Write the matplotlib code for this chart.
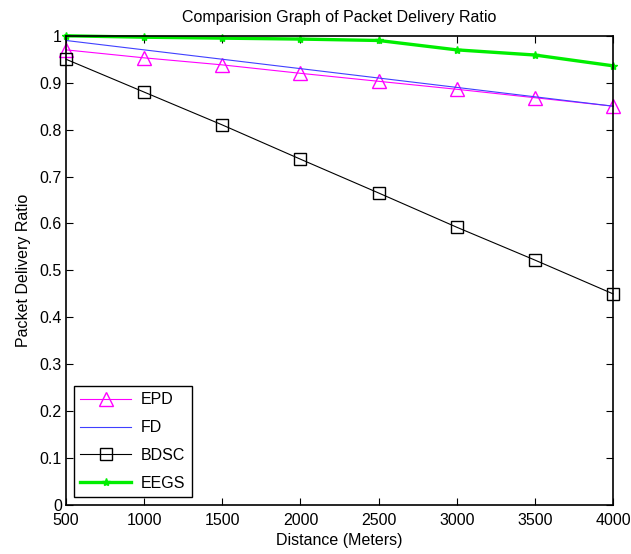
import matplotlib
matplotlib.use("Agg")
import matplotlib.pyplot as plt

plt.rcParams['font.family'] = ['Liberation Sans', 'DejaVu Sans']

distance = [500, 1000, 1500, 2000, 2500, 3000, 3500, 4000]
epd = [0.970, 0.953, 0.938, 0.920, 0.903, 0.886, 0.868, 0.850]
fd = [0.990, 0.970, 0.950, 0.930, 0.910, 0.890, 0.870, 0.850]
bdsc = [0.950, 0.880, 0.810, 0.737, 0.665, 0.592, 0.522, 0.450]
eegs = [1.000, 0.997, 0.995, 0.993, 0.990, 0.970, 0.959, 0.936]

fig = plt.figure(figsize=(6.31, 5.54), dpi=100)
ax = fig.add_axes([0.1046, 0.0884, 0.867, 0.847])

ax.plot(distance, epd, color='magenta', marker='^', markersize=10,
        markerfacecolor='none', markeredgecolor='magenta', linewidth=0.8,
        label='EPD', clip_on=False)
ax.plot(distance, fd, color='#4040ff', linewidth=0.8, label='FD', clip_on=False)
ax.plot(distance, bdsc, color='black', marker='s', markersize=9,
        markerfacecolor='none', linewidth=0.8, label='BDSC', clip_on=False)
ax.plot(distance, eegs, color='#00ee00', marker='*', markersize=6,
        linewidth=2.4, label='EEGS', clip_on=False)

ax.set_xlim(500, 4000)
ax.set_ylim(0, 1)
ax.set_xticks(distance)
ax.set_yticks([0, 0.1, 0.2, 0.3, 0.4, 0.5, 0.6, 0.7, 0.8, 0.9, 1])
ax.set_yticklabels(['0', '0.1', '0.2', '0.3', '0.4', '0.5', '0.6', '0.7', '0.8', '0.9', '1'])
ax.tick_params(direction='in', top=True, right=True, labelsize=11.5, length=5)
ax.tick_params(axis='x', pad=5.5)
ax.tick_params(axis='y', pad=3)
for s in ax.spines.values():
    s.set_linewidth(1.2)

ax.set_title('Comparision Graph of Packet Delivery Ratio', fontsize=11.5, pad=10)
ax.set_xlabel('Distance (Meters)', fontsize=11.5, labelpad=4)
ax.set_ylabel('Packet Delivery Ratio', fontsize=11.5, labelpad=6)

leg = ax.legend(loc='lower left', fontsize=11.5, fancybox=False, edgecolor='black',
                framealpha=1, handlelength=3.2, borderaxespad=0.5,
                labelspacing=0.8, handletextpad=0.6)
leg.get_frame().set_linewidth(1.0)

fig.savefig('out.png', dpi=100)
